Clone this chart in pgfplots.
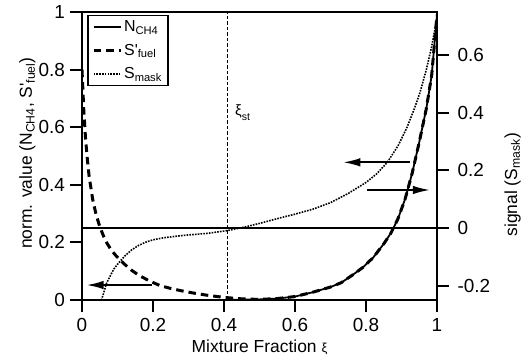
\documentclass[border=0pt]{standalone}
\usepackage{fontspec}
\setmainfont{Liberation Sans}
\usepackage{pgfplots}
\pgfplotsset{compat=1.18}
\usetikzlibrary{arrows.meta}
\newcommand\tickf{\fontsize{19}{22}\selectfont}
\newcommand\bigf{\fontsize{17.5}{20}\selectfont}
\newcommand\legf{\fontsize{16}{18}\selectfont}
\newcommand\smf{\fontsize{13}{15}\selectfont}
\tikzset{
  nch4/.style={line width=1.8bp},
  sfuel/.style={line width=3bp, dash pattern=on 7.5bp off 5bp},
  smask/.style={line width=1.6bp, dash pattern=on 1.6bp off 1.2bp},
  arr/.style={line width=1.8bp, -{Latex[length=17bp,width=8.5bp]}},
}
\pgfplotsset{
  common/.style={
    scale only axis, width=355bp, height=288bp,
    xmin=0, xmax=1,
    tick align=outside, major tick length=12bp,
    axis line style={line width=1.9bp},
    every tick/.style={line width=1.9bp, black},
    /pgf/number format/assume math mode=true,
  }
}
\begin{document}
\begin{tikzpicture}
\path[use as bounding box] (-82bp,-61bp) rectangle (446bp,300bp);
\begin{axis}[common,
  ymin=0, ymax=1,
  xtick={0,0.2,0.4,0.6,0.8,1},
  ytick={0,0.2,0.4,0.6,0.8,1},
  xtick pos=bottom, ytick pos=left,
  xticklabel style={font=\tickf, yshift=-3bp},
  yticklabel style={font=\tickf, xshift=-1.5bp},
]
% S'_fuel
\addplot[sfuel] coordinates {
(0,0.80) (0.005,0.66) (0.01,0.56) (0.015,0.49) (0.02,0.43) (0.03,0.35)
(0.04,0.295) (0.05,0.255) (0.06,0.224) (0.07,0.198) (0.08,0.178)
(0.09,0.162) (0.10,0.148) (0.12,0.124) (0.14,0.103) (0.16,0.086)
(0.19,0.066) (0.22,0.050) (0.25,0.040) (0.28,0.032) (0.31,0.025)
(0.35,0.017) (0.40,0.009) (0.45,0.004) (0.50,0.002) (0.55,0.005)
(0.60,0.012) (0.65,0.027) (0.70,0.045) (0.73,0.060) (0.76,0.085)
(0.79,0.112) (0.82,0.147) (0.85,0.195) (0.87,0.232) (0.89,0.282)
(0.91,0.35) (0.93,0.44) (0.95,0.548) (0.97,0.665) (0.985,0.78) (1.0,0.99)
};
% N_CH4
\addplot[nch4] coordinates {
(0.40,0) (0.45,0.001) (0.50,0.002) (0.55,0.005)
(0.60,0.012) (0.65,0.027) (0.70,0.045) (0.73,0.060) (0.76,0.085)
(0.79,0.112) (0.82,0.147) (0.85,0.195) (0.87,0.232) (0.89,0.282)
(0.91,0.35) (0.93,0.44) (0.95,0.548) (0.97,0.665) (0.985,0.78) (1.0,0.99)
};
% stoichiometric line
\addplot[line width=1.5bp, dash pattern=on 3.5bp off 2bp] coordinates {(0.41,0) (0.41,1)};
\node[anchor=base west, inner sep=0pt, font=\fontsize{15}{17}\selectfont] at (axis cs:0.431,0.642)
  {ξ\raisebox{-5bp}{\fontsize{10.5}{12}\selectfont st}};
% arrows
\addplot[arr] coordinates {(0.196,0.052) (0.013,0.052)};
\addplot[arr] coordinates {(0.924,0.478) (0.736,0.478)};
\addplot[arr] coordinates {(0.802,0.382) (0.98,0.382)};
\end{axis}
\begin{axis}[common,
  ymin=-0.25, ymax=0.75,
  axis x line=none, axis y line*=right,
  ytick={-0.2,0,0.2,0.4,0.6},
  yticklabel style={font=\tickf, xshift=5bp},
  legend style={at={(0.015,0.99)}, anchor=north west, font=\legf,
    draw=black, line width=1.6bp, inner xsep=4bp, inner ysep=3bp,
    row sep=7bp},
  legend cell align=left,
  legend image code/.code={\draw[#1] (0bp,0bp) -- (27bp,0bp);},
]
\addlegendimage{nch4}
\addlegendentry{N\textsubscript{CH4}}
\addlegendimage{sfuel}
\addlegendentry{S\textquotesingle\textsubscript{fuel}}
\addplot[smask] coordinates {
(0.052,-0.26) (0.06,-0.23) (0.069,-0.192) (0.08,-0.165) (0.09,-0.142)
(0.102,-0.123) (0.12,-0.098) (0.14,-0.076) (0.16,-0.060) (0.18,-0.049)
(0.20,-0.041) (0.23,-0.034) (0.262,-0.029) (0.30,-0.024) (0.35,-0.019)
(0.41,-0.009) (0.464,0.005) (0.50,0.016) (0.558,0.035) (0.60,0.048)
(0.652,0.066) (0.70,0.088) (0.75,0.120) (0.80,0.158) (0.83,0.188)
(0.86,0.228) (0.89,0.285) (0.914,0.345) (0.935,0.41) (0.952,0.47)
(0.97,0.55) (0.985,0.63) (1.0,0.73)
};
\addlegendentry{S\textsubscript{mask}}
\addplot[line width=1.8bp, forget plot] coordinates {(0,0) (1,0)};
\end{axis}
% axis labels (axis box spans (0,0) to (355bp,288bp))
\node[font=\bigf, anchor=base] at (177.5bp,-52bp)
  {Mixture Fraction {\smf ξ}};
\node[font=\bigf, anchor=base, rotate=90] at (-50bp,146.9bp)
  {norm. value (N\textsubscript{CH4}, S\textquotesingle\textsubscript{fuel})};
\node[font=\bigf, anchor=base, rotate=90] at (435bp,115.2bp)
  {signal (S\textsubscript{mask})};
\end{tikzpicture}
\end{document}
